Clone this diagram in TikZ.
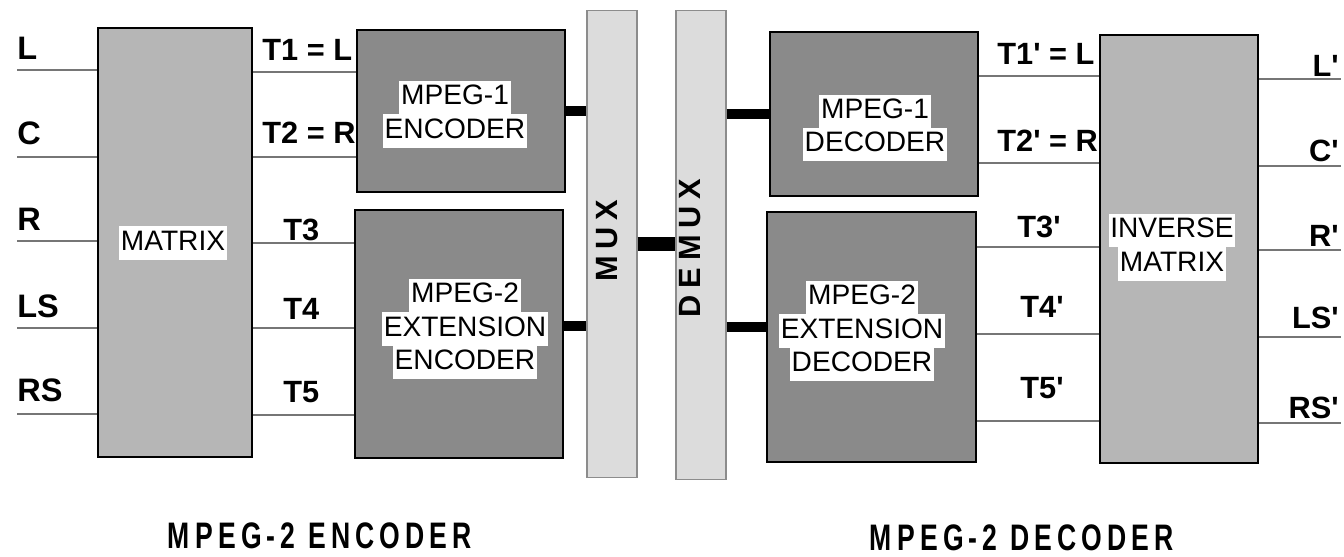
\documentclass[tikz,border=0pt]{standalone}
\usepackage{fontspec}
\setmainfont{Liberation Sans}
\newfontfamily\titlefont{Liberation Sans}[LetterSpace=14, FakeStretch=0.72]
\newfontfamily\barfont{Liberation Sans}[LetterSpace=22]
\definecolor{mtxgray}{RGB}{182,182,182}
\definecolor{codgray}{RGB}{138,138,138}
\definecolor{muxgray}{RGB}{220,220,220}
\definecolor{wiregray}{RGB}{118,118,118}
\setlength{\fboxsep}{1pt}
\newcommand{\hl}[1]{\colorbox{white}{\rule[-4.5pt]{0pt}{17pt}#1}}
\newcommand{\pr}{\textquotesingle}

\begin{document}
\begin{tikzpicture}[x=0.02cm, y=-0.02cm,
  blk/.style={draw=black, line width=1.6pt, inner sep=0},
  mtx/.style={blk, fill=mtxgray},
  cod/.style={blk, fill=codgray},
  bar/.style={draw=black!45, line width=0.6pt, fill=muxgray, inner sep=0, minimum width=1cm},
  txt/.style={font=\fontsize{16}{19}\selectfont, align=center, inner sep=0},
  lbl/.style={font=\fontsize{17.5}{20}\selectfont\bfseries, inner sep=0},
  inlbl/.style={lbl, font=\fontsize{18.5}{20}\selectfont\bfseries},
  bartxt/.style={font=\fontsize{17.5}{20}\barfont\bfseries, inner sep=0, rotate=90},
  title/.style={font=\fontsize{21}{23}\titlefont\bfseries, inner sep=0, anchor=base},
  sig/.style={draw=wiregray, line width=1.1pt},
  bus/.style={draw=black, line width=5.5pt},
]
\useasboundingbox (0,0) rectangle (1344,557);

% ---- blocks
\node[mtx, minimum width=3.08cm, minimum height=8.58cm] (matrix) at (175,242.5) {};
\node[cod, minimum width=4.16cm, minimum height=3.24cm] (enc1) at (461,111) {};
\node[cod, minimum width=4.16cm, minimum height=4.96cm] (enc2) at (459,334) {};
\node[bar, minimum height=9.36cm] (mux) at (612,244) {};
\node[bar, minimum height=9.40cm] (demux) at (701,245) {};
\node[cod, minimum width=4.16cm, minimum height=3.28cm] (dec1) at (874,114) {};
\node[cod, minimum width=4.18cm, minimum height=5.00cm] (dec2) at (871.5,337) {};
\node[mtx, minimum width=3.16cm, minimum height=8.56cm] (invmat) at (1179,249) {};

\node[txt] (matrixtxt) at (173,243) {\hl{MATRIX}};
\node[txt] (enc1txt) at (455,114.5) {\hl{MPEG-1}\\\hl{ENCODER}};
\node[txt] (enc2txt) at (465,329) {\hl{MPEG-2}\\\hl{EXTENSION}\\\hl{ENCODER}};
\node[txt] (dec1txt) at (875,128) {\hl{MPEG-1}\\\hl{DECODER}};
\node[txt] (dec2txt) at (862,331) {\hl{MPEG-2}\\\hl{EXTENSION}\\\hl{DECODER}};
\node[txt] (invtxt) at (1172,247.5) {\hl{INVERSE}\\\hl{MATRIX}};
\node[bartxt] (muxtxt) at (607,241) {MUX};
\node[bartxt] (demuxtxt) at (690,248) {DEMUX};

% ---- inputs
\foreach \name/\yl/\yb in {L/70/60, C/157/145, R/241/230, LS/328/317, RS/414/401} {
  \coordinate (in\name) at (17,\yl);
  \node[inlbl, anchor=base west] (lbl\name) at (17,\yb) {\name};
  \draw[sig] (in\name) -- (in\name -| matrix.west);
}

% ---- matrix -> encoders
\foreach \i/\yl/\dst in {1/72/enc1, 2/157/enc1, 3/243/enc2, 4/328/enc2, 5/415/enc2} {
  \draw[sig] (matrix.east |- 0,\yl) -- (\dst.west |- 0,\yl);
}
\node[lbl, anchor=base west] (lblT1) at (262,61) {T1 = L};
\node[lbl, anchor=base west] (lblT2) at (262,144) {T2 = R};
\node[lbl, anchor=base west] (lblT3) at (283,240) {T3};
\node[lbl, anchor=base west] (lblT4) at (283,319) {T4};
\node[lbl, anchor=base west] (lblT5) at (283,402) {T5};

% ---- multiplex
\draw[bus] (enc1.east) -- (enc1.east -| mux.west);
\draw[bus] (enc2.east |- 0,326) -- (mux.west |- 0,326);
\draw[bus, line width=8.5pt] (mux.east) -- (mux.east -| demux.west);
\draw[bus] (demux.east |- dec1.west) -- (dec1.west);
\draw[bus] (demux.east |- 0,327) -- (dec2.west |- 0,327);

% ---- decoders -> inverse matrix
\foreach \i/\yl/\src in {1/76/dec1, 2/163/dec1, 3/247/dec2, 4/334/dec2, 5/421/dec2} {
  \draw[sig] (\src.east |- 0,\yl) -- (invmat.west |- 0,\yl);
}
\node[lbl, anchor=base west] (lblTa) at (997,65) {T1\pr{} = L};
\node[lbl, anchor=base west] (lblTb) at (997,152) {T2\pr{} = R};
\node[lbl, anchor=base west] (lblTc) at (1017,237) {T3\pr};
\node[lbl, anchor=base west] (lblTd) at (1020,317) {T4\pr};
\node[lbl, anchor=base west] (lblTe) at (1020,398) {T5\pr};

% ---- outputs
\foreach \name/\yl/\yb in {L/79/77, C/166/162, R/250/246, LS/337/328, RS/423/418} {
  \coordinate (out\name) at (1341,\yl);
  \draw[sig] (invmat.east |- out\name) -- (out\name);
  \node[lbl, anchor=base east] (olbl\name) at (1339,\yb) {\name\pr};
}

\node[title] (enctitle) at (320,548) {MPEG-2 ENCODER};
\node[title] (dectitle) at (1022,550) {MPEG-2 DECODER};
\end{tikzpicture}
\end{document}
